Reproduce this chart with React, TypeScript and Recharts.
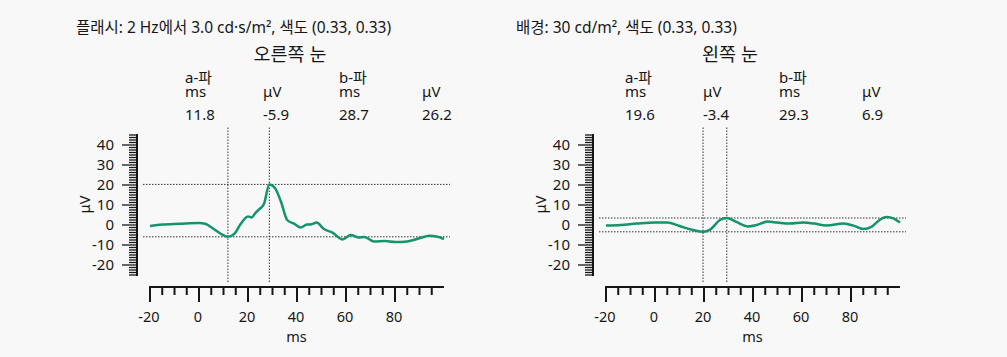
import { LineChart, Line, XAxis, YAxis, ReferenceLine } from 'recharts';

// 오른쪽 눈 (right eye) trace
const rightMs = [-20, -15, -8, 0, 2.5, 6, 9, 11.8, 14.5, 17, 20, 21.5, 23, 24.5, 26.5, 28.7, 31, 33.5, 36, 39, 41.5, 44, 46, 48, 51, 54.5, 58.5, 62, 65, 67.5, 71.5, 76, 80, 85, 90, 94, 97, 100];
const rightUv = [-0.5, 0.2, 0.6, 1.0, 0.6, -2, -4.5, -5.9, -4.3, 0.5, 4.3, 3.8, 6, 7.8, 10.5, 20.3, 18.5, 11.5, 2.5, 0.5, -1.2, 0.2, 0.4, 1.2, -2, -3.8, -7.2, -5, -6.2, -6, -8.3, -8, -8.5, -8.2, -6.6, -5.4, -5.7, -7];

// 왼쪽 눈 (left eye) trace
const leftMs = [-20, -14, -7.5, 0, 5, 10, 15.5, 19.6, 22.5, 26.5, 29.3, 33, 38, 41.5, 46, 50, 55, 60.5, 65, 70, 77, 81, 85, 88.5, 92, 94.5, 97.5, 100];
const leftUv = [-0.3, 0, 0.7, 1.3, 1.2, -0.5, -2.5, -3.4, -2.3, 2.5, 3.5, 1.7, -0.7, 0, 1.7, 1.2, 0.7, 1.2, 0.7, -0.3, 0.7, -0.3, -2, -0.8, 2.8, 4, 3.2, 1.2];

// measured a-wave / b-wave values: [a ms, a μV, b ms, b μV]
const rightWave = [11.8, -5.9, 28.7, 26.2];
const leftWave = [19.6, -3.4, 29.3, 6.9];

const xTicks = [-20, -15, -10, -5, 0, 5, 10, 15, 20, 25, 30, 35, 40, 45, 50, 55, 60, 65, 70, 75, 80, 85, 90, 95];
const yTicks = Array.from({ length: 57 }, (_, i) => -25 + i * 1.25);

const FONT = "'Noto Sans', 'Noto Sans CJK KR', sans-serif";
const INK = '#161616';
const GREEN = '#15936b';
const X_PX = 294 / 120;
const Y_PX = 2;

const XTick = (props: any) => {
  const { x, y, payload } = props;
  const v = payload.value;
  const major = v % 20 === 0;
  const ay = y + 5;
  return (
    <g>
      {v === xTicks[0] && (
        <line x1={x - 1} x2={x + 120 * X_PX} y1={ay} y2={ay} stroke={INK} strokeWidth={2} />
      )}
      <line x1={x} x2={x} y1={ay} y2={ay + (major ? 15 : 8)} stroke={INK} strokeWidth={2} />
      {major && (
        <text x={x - 1} y={ay + 35} textAnchor="middle" fontSize={14.5} fill={INK} fontFamily={FONT}>
          {v}
        </text>
      )}
    </g>
  );
};

const YTick = (props: any) => {
  const { x, y, payload } = props;
  const v = payload.value;
  const major = v % 10 === 0 && v >= -20 && v <= 40;
  const ax = x - 6;
  return (
    <g>
      {v === yTicks[0] && (
        <line x1={ax} x2={ax} y1={y + 1} y2={y - 70 * Y_PX - 1} stroke={INK} strokeWidth={2} />
      )}
      <line x1={ax - (major ? 15 : 8)} x2={ax} y1={y} y2={y} stroke={INK} strokeWidth={1.3} />
      {major && (
        <text x={ax - 23} y={y + 5} textAnchor="end" fontSize={15} fill={INK} fontFamily={FONT}>
          {v}
        </text>
      )}
    </g>
  );
};

type PanelProps = {
  chartLeft: number;
  textLeft: number;
  header: string;
  title: string;
  ms: number[];
  uv: number[];
  wave: number[];
};

const Panel = ({ chartLeft, textLeft, header, title, ms, uv, wave }: PanelProps) => {
  const data = ms.map((m, i) => ({ ms: m, uv: uv[i] }));
  const [aMs, aUv, bMs, bUv] = wave;
  const cols = [109, 187, 263, 346];
  const dotted = { stroke: '#333', strokeDasharray: '1.5 1.5', strokeWidth: 1 };
  return (
    <>
      <svg
        width={500}
        height={130}
        style={{ position: 'absolute', left: textLeft, top: 0 }}
        fontFamily={FONT}
        fill={INK}
      >
        <text x={0} y={33} fontSize={15.5}>{header}</text>
        <text x={214} y={61} fontSize={18.5} textAnchor="middle">{title}</text>
        <text x={cols[0]} y={83} fontSize={15}>a-파</text>
        <text x={cols[2]} y={83} fontSize={15}>b-파</text>
        <text x={cols[0]} y={97} fontSize={15}>ms</text>
        <text x={cols[1]} y={97} fontSize={15}>μV</text>
        <text x={cols[2]} y={97} fontSize={15}>ms</text>
        <text x={cols[3]} y={97} fontSize={15}>μV</text>
        {wave.map((w, i) => (
          <text key={i} x={cols[i]} y={120} fontSize={15}>{w.toFixed(1)}</text>
        ))}
      </svg>
      <div style={{ position: 'absolute', left: chartLeft, top: 0 }}>
        <LineChart width={500} height={357} data={data} margin={{ top: 127, right: 50, bottom: 15, left: 81 }}>
          <XAxis
            dataKey="ms"
            type="number"
            domain={[-20, 100]}
            ticks={xTicks}
            interval={0}
            padding={{ left: 7, right: 6 }}
            height={60}
            tickSize={0}
            tickMargin={0}
            axisLine={false}
            tickLine={false}
            tick={(p: any) => <XTick {...p} />}
            label={{ value: 'ms', position: 'insideBottom', offset: 0, style: { fontSize: 14.5, fill: INK, fontFamily: FONT } }}
          />
          <YAxis
            type="number"
            domain={[-25, 45]}
            ticks={yTicks}
            interval={0}
            padding={{ top: 8, bottom: 7 }}
            width={62}
            tickSize={0}
            tickMargin={0}
            axisLine={false}
            tickLine={false}
            tick={(p: any) => <YTick {...p} />}
            label={{ value: 'μV', angle: -90, position: 'insideLeft', offset: 4, style: { textAnchor: 'middle', fontSize: 14.5, fill: INK, fontFamily: FONT } }}
          />
          <ReferenceLine x={aMs} {...dotted} />
          <ReferenceLine x={bMs} {...dotted} />
          <ReferenceLine y={aUv} {...dotted} />
          <ReferenceLine y={aUv + bUv} {...dotted} />
          <Line
            type="monotone"
            dataKey="uv"
            stroke={GREEN}
            strokeWidth={2.5}
            dot={false}
            isAnimationActive={false}
          />
        </LineChart>
      </div>
    </>
  );
};

export default function App() {
  return (
    <div
      style={{
        position: 'absolute',
        left: 0,
        top: 0,
        width: 1007,
        height: 357,
        background: '#f8f8f8',
        overflow: 'hidden',
      }}
    >
      <Panel
        chartLeft={0}
        textLeft={76}
        header="플래시: 2 Hz에서 3.0 cd·s/m², 색도 (0.33, 0.33)"
        title="오른쪽 눈"
        ms={rightMs}
        uv={rightUv}
        wave={rightWave}
      />
      <Panel
        chartLeft={456}
        textLeft={516}
        header="배경: 30 cd/m², 색도 (0.33, 0.33)"
        title="왼쪽 눈"
        ms={leftMs}
        uv={leftUv}
        wave={leftWave}
      />
    </div>
  );
}
